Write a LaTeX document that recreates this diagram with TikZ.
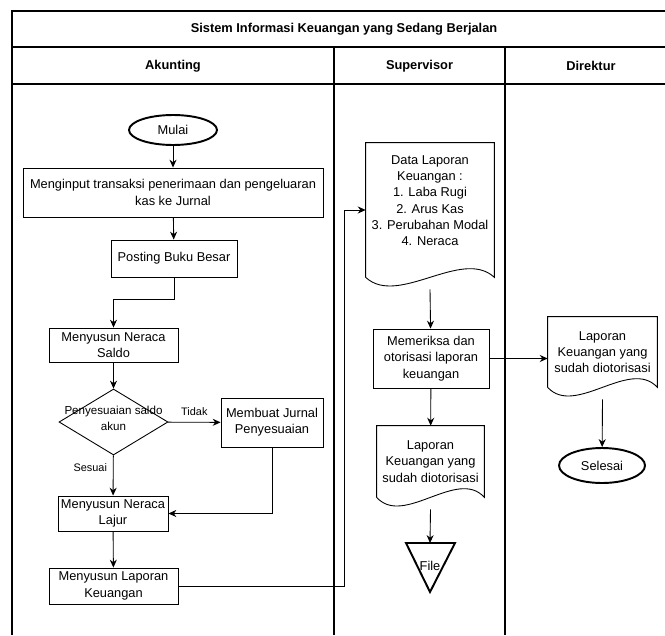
\documentclass[tikz,border=0pt]{standalone}
\usepackage{fontspec}
\setmainfont{Liberation Sans}
\usetikzlibrary{shapes.geometric,calc,arrows.meta}

\tikzset{
  box/.style={draw, line width=0.5pt, align=center, inner sep=1pt},
  term/.style={draw, ellipse, line width=1.1pt, inner sep=0pt},
  decision/.style={draw, diamond, line width=0.5pt, inner sep=0pt},
  docbox/.style={align=center, inner sep=1pt},
  lane/.style={line width=0.6pt},
  head/.style={font=\fontsize{7.3}{9}\selectfont\bfseries},
  lbl/.style={font=\fontsize{6.2}{7.5}\selectfont},
  flow/.style={->, line width=0.5pt},
}
% bottom wave of a document node
\newcommand{\docshape}[1]{%
  \draw[line width=0.5pt] (#1.south west) -- (#1.north west) -- (#1.north east) -- (#1.south east)
    .. controls ($(#1.south)!0.5!(#1.south east)+(0,-30)$) and ($(#1.south)!0.5!(#1.south west)+(0,30)$) .. (#1.south west);}
\newcommand{\nosize}[1]{\smash{\makebox[0pt]{\begin{tabular}{@{}c@{}}#1\end{tabular}}}}

\begin{document}
\begin{tikzpicture}[x=0.02cm, y=-0.02cm, >={Stealth[length=4.5pt,width=4pt]}, font=\fontsize{7.3}{9.3}\selectfont]
        \useasboundingbox (0,0) rectangle (665,635);
        % lanes
        \draw[lane] (12,635) -- (12,11) -- (665,11);
        \draw[lane] (12,47) -- (665,47);
        \draw[lane] (12,84) -- (665,84);
        \draw[lane] (334,47) -- (334,635);
        \draw[lane] (505,47) -- (505,635);
        \node[head] (judul) at (344,29) {Sistem Informasi Keuangan yang Sedang Berjalan};
        \node[head] (akunting) at (173,66) {Akunting};
        \node[head] (supervisor) at (419.5,66) {Supervisor};
        \node[head] (direktur) at (591,66) {Direktur};

        % Akunting
        \node[term, minimum width=1.76cm, minimum height=0.6cm] (mulai) at (173,130) {Mulai};
        \node[box, minimum width=6cm, minimum height=0.98cm] (input) at (173,192.5) {Menginput transaksi penerimaan dan pengeluaran\\kas ke Jurnal};
        \node[box, minimum width=2.52cm, minimum height=0.74cm] (posting) at (174,258.5) {Posting Buku Besar};
        \node[box, minimum width=2.58cm, minimum height=0.68cm] (saldo) at (113.5,345) {Menyusun Neraca\\Saldo};
        \node[decision, minimum width=2.18cm, minimum height=1.32cm] (cek) at (113.5,422) {\nosize{\fontsize{6.6}{8}\selectfont Penyesuaian saldo\\\fontsize{6.6}{8}\selectfont akun}};
        \node[box, minimum width=2.04cm, minimum height=0.98cm] (jurnal) at (272,422.5) {Membuat Jurnal\\Penyesuaian};
        \node[box, minimum width=2.2cm, minimum height=0.7cm] (lajur) at (113,513.5) {Menyusun Neraca\\Lajur};
        \node[box, minimum width=2.58cm, minimum height=0.72cm] (lapkeu) at (113.5,586) {Menyusun Laporan\\Keuangan};

        % Supervisor
        \node[docbox, minimum width=2.56cm, minimum height=2.68cm] (data) at (430,210) {Data Laporan\\Keuangan :\\1. Laba Rugi\\2. Arus Kas\\3. Perubahan Modal\\4. Neraca\\[0.05cm]};
        \docshape{data}
        \node[box, minimum width=2.32cm, minimum height=1.18cm] (periksa) at (431,358.5) {Memeriksa dan\\otorisasi laporan\\keuangan};
        \node[docbox, minimum width=2.14cm, minimum height=1.42cm] (doc2) at (430.5,461.5) {Laporan\\Keuangan yang\\sudah diotorisasi};
        \docshape{doc2}
        \node (file) at (430,566) {File};
        \coordinate (filetop) at (430,543);
        \draw[line width=1.1pt] (406,543) -- (455,543) -- (430,592) -- cycle;

        % Direktur
        \node[docbox, minimum width=2.18cm, minimum height=1.4cm] (doc3) at (602.5,352) {Laporan\\Keuangan yang\\sudah diotorisasi};
        \docshape{doc3}
        \node[term, minimum width=1.72cm, minimum height=0.7cm] (selesai) at (602,465.5) {Selesai};

        % connectors
        \draw[flow] (mulai) -- (input);
        \draw[flow] (input) -- (posting);
        \draw[flow] (posting.south) -- ++(0,22) -| (saldo.north);
        \draw[flow] (saldo) -- (cek);
        \draw[flow] (cek) -- node[lbl, above]{Tidak} (jurnal);
        \draw[flow] (cek) -- node[lbl, left, pos=0.3]{Sesuai} (lajur);
        \draw[flow] (jurnal.south) |- (lajur.east);
        \draw[flow] (lajur) -- (lapkeu);
        \draw[flow] (lapkeu.east) -- ++(166,0) |- (data.west);
        \draw[flow] ($(data.south)+(0,12)$) -- (periksa);
        \draw[flow] (periksa.east) -- (periksa.east -| doc3.west);
        \draw[flow] (periksa) -- (doc2);
        \draw[flow] ($(doc2.south)+(0,12)$) -- (filetop);
        \draw[flow] ($(doc3.south)+(0,12)$) -- (selesai);
    \end{tikzpicture}
\end{document}
